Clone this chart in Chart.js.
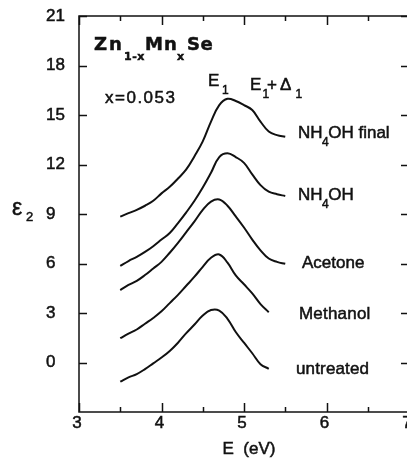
<!DOCTYPE html>
<html>
<head>
<meta charset="utf-8">
<script src="https://cdn.jsdelivr.net/npm/chart.js@4"></script>
<style>
  html, body { margin: 0; padding: 0; background: #fff; overflow: hidden; }
  canvas { display: block; }
</style>
</head>
<body>
<canvas id="chart" width="415" height="468"></canvas>
<script>
// Photon energy grid (eV)
const energy = [3.5, 3.6, 3.7, 3.8, 3.9, 4.0, 4.1, 4.2, 4.3, 4.4, 4.5,
                4.6, 4.7, 4.8, 4.9, 5.0, 5.1, 5.2, 5.3, 5.4, 5.5];

// Imaginary part of the dielectric function, curves offset for clarity
const nh4ohFinal = [8.84, 9.05, 9.25, 9.5, 9.8, 10.25, 10.65, 11.15, 11.7, 12.5, 13.4,
                    14.6, 15.6, 15.98, 15.85, 15.6, 15.3, 14.6, 14.0, 13.78, 13.68];
const nh4oh      = [5.85, 6.15, 6.4, 6.7, 7.05, 7.45, 7.85, 8.45, 9.1, 9.8, 10.6,
                    11.5, 12.45, 12.68, 12.45, 12.1, 11.4, 10.75, 10.35, 10.2, 10.09];
const acetone    = [4.39, 4.7, 4.95, 5.3, 5.7, 6.1, 6.65, 7.25, 7.9, 8.55, 9.25,
                    9.75, 9.88, 9.5, 8.85, 8.18, 7.45, 6.8, 6.3, 6.1, 5.98];
const methanol   = [1.47, 1.75, 2.0, 2.35, 2.7, 3.1, 3.6, 4.1, 4.65, 5.2, 5.8,
                    6.35, 6.55, 6.05, 5.28, 4.74, 4.19, 3.54, 3.05];
const untreated  = [-1.16, -0.9, -0.7, -0.4, -0.05, 0.3, 0.7, 1.2, 1.78, 2.3, 2.85,
                    3.18, 3.15, 2.65, 1.85, 1.2, 0.56, -0.1, -0.38];

const seriesNames = ['NH4OH final', 'NH4OH', 'Acetone', 'Methanol', 'untreated'];
const seriesValues = [nh4ohFinal, nh4oh, acetone, methanol, untreated];

// Axis ticks
const xTicks = [3, 4, 5, 6, 7];
const xMinorTicks = [3.5, 4.5, 5.5, 6.5];
const yTicks = [0, 3, 6, 9, 12, 15, 18, 21];

const SANS = '"Liberation Sans", Arial, Helvetica, sans-serif';
const INK = '#111';

const toPoints = (vals) => vals.map((v, i) => ({ x: energy[i], y: v }));

function drawText(ctx, str, x, y, font, spacing) {
  ctx.font = font;
  ctx.letterSpacing = (spacing || 0) + 'px';
  ctx.strokeText(str, x, y);
  ctx.fillText(str, x, y);
  const w = ctx.measureText(str).width;
  ctx.letterSpacing = '0px';
  return x + w;
}

// Frame with inward ticks on all four sides
const framePlugin = {
  id: 'frame',
  afterDraw(chart) {
    const { ctx, chartArea: a, scales } = chart;
    const xs = scales.x, ys = scales.y;
    ctx.save();
    ctx.strokeStyle = INK;
    ctx.lineWidth = 1.5;
    ctx.strokeRect(a.left, a.top, a.right - a.left, a.bottom - a.top);
    ctx.beginPath();
    yTicks.forEach(v => {
      const py = Math.round(ys.getPixelForValue(v)) + 0.5;
      ctx.moveTo(a.left, py); ctx.lineTo(a.left + 8, py);
      ctx.moveTo(a.right, py); ctx.lineTo(a.right - 8, py);
    });
    xTicks.forEach(v => {
      const px = Math.round(xs.getPixelForValue(v)) + 0.5;
      ctx.moveTo(px, a.bottom); ctx.lineTo(px, a.bottom - 9);
      ctx.moveTo(px, a.top); ctx.lineTo(px, a.top + 9);
    });
    xMinorTicks.forEach(v => {
      const px = Math.round(xs.getPixelForValue(v)) + 0.5;
      ctx.moveTo(px, a.bottom); ctx.lineTo(px, a.bottom - 5);
      ctx.moveTo(px, a.top); ctx.lineTo(px, a.top + 5);
    });
    ctx.stroke();
    ctx.restore();
  }
};

// Sample name, composition, transition labels and axis titles
const labelPlugin = {
  id: 'labels',
  afterDraw(chart) {
    const { ctx, chartArea: a } = chart;
    const L = a.left, T = a.top;
    ctx.save();
    ctx.fillStyle = INK;
    ctx.strokeStyle = INK;
    ctx.lineWidth = 0.5;
    ctx.textBaseline = 'alphabetic';
    ctx.textAlign = 'left';

    // Zn1-xMnxSe
    const BOLD = 'bold 18px "DejaVu Sans", sans-serif';
    const BOLDSUB = 'bold 11px "DejaVu Sans", sans-serif';
    drawText(ctx, 'Zn', L + 15, T + 34, BOLD, 2);
    drawText(ctx, '1-x', L + 45, T + 44, BOLDSUB, 0.5);
    drawText(ctx, 'Mn', L + 66, T + 34, BOLD, 1);
    drawText(ctx, 'x', L + 98, T + 44, BOLDSUB, 0);
    drawText(ctx, 'Se', L + 108, T + 34, BOLD, 0.5);

    // composition
    drawText(ctx, 'x=0.053', L + 26, T + 87, '17px ' + SANS, 1.5);

    // E1 and E1+Δ1
    const F = '17px ' + SANS, FS = '12px ' + SANS;
    drawText(ctx, 'E', L + 129, T + 70, F);
    drawText(ctx, '1', L + 143, T + 78, FS);
    drawText(ctx, 'E', L + 171, T + 74, F);
    drawText(ctx, '1', L + 183.5, T + 82, FS);
    drawText(ctx, '+', L + 188, T + 74, F);
    drawText(ctx, '\u0394', L + 201, T + 74, F);
    drawText(ctx, '1', L + 216.5, T + 82, FS);

    // curve names
    let x;
    x = drawText(ctx, 'NH', L + 219, T + 122, F);
    x = drawText(ctx, '4', x - 0.5, T + 130, FS);
    drawText(ctx, 'OH final', x - 0.5, T + 122, F);

    x = drawText(ctx, 'NH', L + 219, T + 184, F);
    x = drawText(ctx, '4', x - 0.5, T + 192, FS);
    drawText(ctx, 'OH', x - 0.5, T + 184, F);

    drawText(ctx, seriesNames[2], L + 223, T + 252, F);
    drawText(ctx, seriesNames[3], L + 220, T + 303, F, 0.2);
    drawText(ctx, seriesNames[4], L + 217, T + 358, F, 0.15);

    // y title: ε2
    drawText(ctx, '\u03b5', 12, 215, '23px ' + SANS);
    drawText(ctx, '2', 26, 221, '13px ' + SANS);

    // x title
    ctx.textAlign = 'center';
    ctx.font = F;
    ctx.strokeText('E  (eV)', L + 170, a.bottom + 42);
    ctx.fillText('E  (eV)', L + 170, a.bottom + 42);
    ctx.restore();
  }
};

const datasets = seriesValues.map((vals, i) => ({
  label: seriesNames[i],
  data: toPoints(vals),
  borderColor: INK,
  borderWidth: 2,
  pointRadius: 0,
  fill: false,
  tension: 0.4
}));

const tickFont = { family: SANS, size: 17 };

new Chart(document.getElementById('chart'), {
  type: 'line',
  data: { datasets },
  options: {
    responsive: false,
    animation: false,
    layout: { padding: { left: 46, right: 6, top: 16, bottom: 0 } },
    plugins: { legend: { display: false }, tooltip: { enabled: false } },
    scales: {
      x: {
        type: 'linear',
        min: 3, max: 7,
        grid: { display: false, drawTicks: false },
        border: { display: false },
        afterBuildTicks: (s) => { s.ticks = xTicks.map(v => ({ value: v })); },
        afterFit: (s) => { s.height = 56; },
        ticks: {
          color: INK,
          padding: 1,
          labelOffset: -2,
          maxRotation: 0,
          textStrokeColor: INK,
          textStrokeWidth: 0.5,
          font: tickFont
        }
      },
      y: {
        type: 'linear',
        min: -3, max: 21,
        grid: { display: false, drawTicks: false },
        border: { display: false },
        afterBuildTicks: (s) => { s.ticks = yTicks.map(v => ({ value: v })); },
        afterFit: (s) => { s.width = 33; },
        ticks: {
          color: INK,
          crossAlign: 'far',
          textStrokeColor: INK,
          textStrokeWidth: 0.5,
          font: tickFont
        }
      }
    }
  },
  plugins: [framePlugin, labelPlugin]
});
</script>
</body>
</html>
